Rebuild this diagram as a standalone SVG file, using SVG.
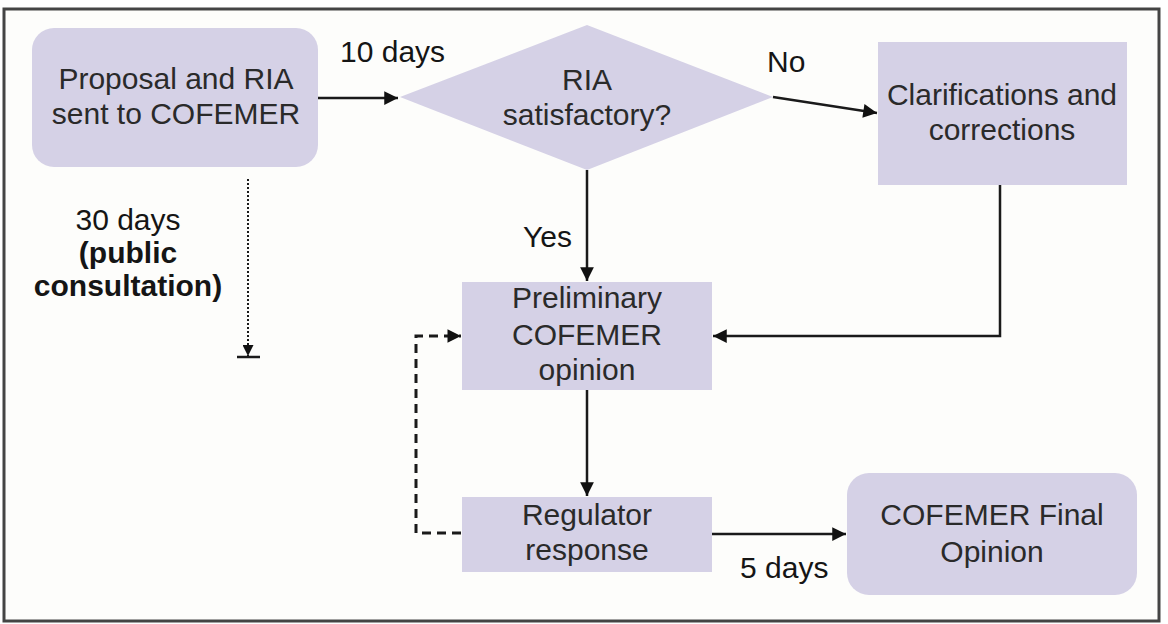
<svg xmlns="http://www.w3.org/2000/svg" width="1168" height="624" viewBox="0 0 1168 624">
<style>
.node{fill:#d5d1e6;}
.nt{font-family:"Liberation Sans",Arial,sans-serif;font-size:30px;fill:#2a2a2a;text-anchor:middle;}
.lbl{font-family:"Liberation Sans",Arial,sans-serif;font-size:30px;fill:#151515;}
.b{font-weight:bold;}
.c{fill:none;stroke:#1a1a1a;stroke-width:2.5;}
</style>
<defs>
<marker id="ah" viewBox="0 0 10 10" refX="10" refY="5" markerWidth="6" markerHeight="5.5" markerUnits="strokeWidth" orient="auto">
<path d="M0,0 L10,5 L0,10 z" fill="#111"/>
</marker>
<marker id="ahd" viewBox="0 0 10 10" refX="10" refY="5" markerWidth="5" markerHeight="4.5" markerUnits="strokeWidth" orient="auto">
<path d="M0,0 L10,5 L0,10 z" fill="#111"/>
</marker>
</defs>
<rect x="0" y="0" width="1168" height="624" fill="#ffffff"/>
<rect x="4" y="9" width="1155" height="612" fill="#fdfdfb" stroke="#444" stroke-width="3"/>

<g id="n1">
<rect class="node" x="32" y="28" width="286" height="139" rx="22"/>
<text class="nt" x="176" y="89">Proposal and RIA</text>
<text class="nt" x="176" y="124">sent to COFEMER</text>
</g>
<g id="n2">
<polygon class="node" points="400,97 587,25 773,97 587,170"/>
<text class="nt" x="587" y="90">RIA</text>
<text class="nt" x="587" y="125">satisfactory?</text>
</g>
<g id="n3">
<rect class="node" x="878" y="42" width="249" height="143"/>
<text class="nt" x="1002" y="105">Clarifications and</text>
<text class="nt" x="1002" y="140">corrections</text>
</g>
<g id="n4">
<rect class="node" x="462" y="282" width="250" height="108"/>
<text class="nt" x="587" y="308">Preliminary</text>
<text class="nt" x="587" y="345">COFEMER</text>
<text class="nt" x="587" y="380">opinion</text>
</g>
<g id="n5">
<rect class="node" x="462" y="497" width="250" height="75"/>
<text class="nt" x="587" y="525">Regulator</text>
<text class="nt" x="587" y="560">response</text>
</g>
<g id="n6">
<rect class="node" x="847" y="473" width="290" height="122" rx="22"/>
<text class="nt" x="992" y="525">COFEMER Final</text>
<text class="nt" x="992" y="562">Opinion</text>
</g>

<g id="connectors">
<line class="c" x1="318" y1="98" x2="398" y2="98" marker-end="url(#ah)"/>
<line class="c" x1="773" y1="97" x2="877" y2="113" marker-end="url(#ah)"/>
<line class="c" x1="587" y1="170" x2="587" y2="281" marker-end="url(#ah)"/>
<polyline class="c" points="1000,185 1000,336 713,336" marker-end="url(#ah)"/>
<line class="c" x1="587" y1="390" x2="587" y2="496" marker-end="url(#ah)"/>
<line class="c" x1="712" y1="534" x2="846" y2="534" marker-end="url(#ah)"/>
<polyline fill="none" stroke="#1a1a1a" stroke-width="3" stroke-dasharray="9,6" points="461,533 416,533 416,336 461,336" marker-end="url(#ahd)"/>
<line x1="248" y1="179" x2="248" y2="356" stroke="#1a1a1a" stroke-width="2" stroke-dasharray="2,2" marker-end="url(#ah)"/>
<line x1="237" y1="357" x2="260" y2="357" stroke="#1a1a1a" stroke-width="2.5"/>
</g>

<g id="labels">
<text class="lbl" x="340" y="62">10 days</text>
<text class="lbl" x="767" y="72">No</text>
<text class="lbl" x="523" y="247">Yes</text>
<text class="lbl" x="740" y="578">5 days</text>
<text class="lbl" x="128" y="230" text-anchor="middle">30 days</text>
<text class="lbl b" x="128" y="263" text-anchor="middle">(public</text>
<text class="lbl b" x="128" y="296" text-anchor="middle">consultation)</text>
</g>
</svg>
